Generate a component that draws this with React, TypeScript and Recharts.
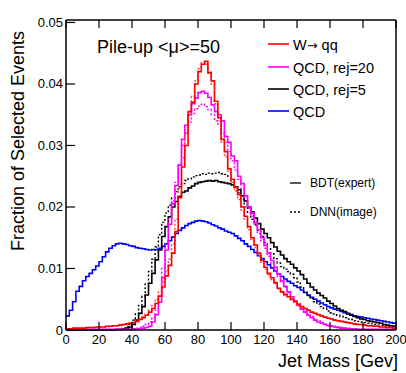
import React from 'react'
import { ComposedChart, Line, XAxis, YAxis } from 'recharts'

const FONT = "'Liberation Sans', Arial, Helvetica, sans-serif"

// lower bin edges, 2 GeV bins, plus the closing edge at 200
const binEdges = Array.from({ length: 101 }, (_, i) => i * 2)
const xTicks = [0, 20, 40, 60, 80, 100, 120, 140, 160, 180, 200]
const yTicks = [0, 0.01, 0.02, 0.03, 0.04, 0.05]

// W -> qq, BDT(expert)
const wqqBdt = [
  0.0002, 0.0002, 0.0003, 0.0003, 0.0003, 0.0003, 0.0004, 0.0004, 0.0004, 0.0005,
  0.0005, 0.0005, 0.0006, 0.0006, 0.0007, 0.0007, 0.0008, 0.0009, 0.001, 0.0011,
  0.0012, 0.0014, 0.0017, 0.002, 0.0024, 0.0029, 0.0035, 0.0043, 0.0055, 0.007,
  0.0088, 0.0105, 0.0125, 0.016, 0.0215, 0.0265, 0.03, 0.0355, 0.037, 0.04,
  0.042, 0.0432, 0.0437, 0.0418, 0.0405, 0.0372, 0.0345, 0.031, 0.029, 0.0262,
  0.0245, 0.0232, 0.022, 0.02, 0.0185, 0.0168, 0.015, 0.0138, 0.0125, 0.0113,
  0.0102, 0.0092, 0.0085, 0.0077, 0.0068, 0.0062, 0.0058, 0.0054, 0.005, 0.0046,
  0.0042, 0.0038, 0.0035, 0.0032, 0.0029, 0.0027, 0.0025, 0.0023, 0.0021, 0.0019,
  0.0018, 0.0016, 0.0015, 0.0014, 0.0013, 0.0012, 0.0011, 0.001, 0.0009, 0.0009,
  0.0008, 0.0007, 0.0007, 0.0006, 0.0006, 0.0005, 0.0005, 0.0004, 0.0004, 0.0003,
]

// W -> qq, DNN(image)
const wqqDnn = [
  0.0002, 0.0002, 0.0002, 0.0003, 0.0003, 0.0003, 0.0003, 0.0004, 0.0004, 0.0004,
  0.0005, 0.0005, 0.0005, 0.0006, 0.0006, 0.0007, 0.0008, 0.0008, 0.0009, 0.0011,
  0.0012, 0.0015, 0.0018, 0.0022, 0.0026, 0.0032, 0.004, 0.005, 0.0062, 0.0078,
  0.0095, 0.0115, 0.014, 0.018, 0.023, 0.028, 0.032, 0.035, 0.038, 0.0405,
  0.0425, 0.0435, 0.0432, 0.042, 0.04, 0.0368, 0.034, 0.0305, 0.0282, 0.0258,
  0.024, 0.0226, 0.0212, 0.0195, 0.018, 0.0163, 0.0147, 0.0134, 0.0121, 0.011,
  0.0099, 0.009, 0.0082, 0.0075, 0.0067, 0.0061, 0.0057, 0.0053, 0.0049, 0.0045,
  0.0041, 0.0038, 0.0035, 0.0032, 0.0029, 0.0027, 0.0025, 0.0023, 0.0021, 0.0019,
  0.0018, 0.0016, 0.0015, 0.0014, 0.0013, 0.0012, 0.0011, 0.001, 0.0009, 0.0009,
  0.0008, 0.0007, 0.0007, 0.0006, 0.0006, 0.0005, 0.0005, 0.0004, 0.0004, 0.0003,
]

// QCD after cut with rejection 20
const qcd20Bdt = [
  0, 0, 0, 0, 0, 0, 0.0001, 0.0001, 0.0001, 0.0001,
  0.0001, 0.0001, 0.0001, 0.0001, 0.0001, 0.0001, 0.0001, 0.0001, 0.0001, 0.0001,
  0.0001, 0.0002, 0.0002, 0.0003, 0.0004, 0.0006, 0.0013, 0.0025, 0.0045, 0.0085,
  0.013, 0.0172, 0.0205, 0.0235, 0.0268, 0.031, 0.0333, 0.035, 0.0368, 0.0377,
  0.0386, 0.0388, 0.0385, 0.0378, 0.0366, 0.0355, 0.035, 0.034, 0.0315, 0.0305,
  0.0283, 0.0275, 0.025, 0.0238, 0.0218, 0.02, 0.019, 0.0175, 0.0163, 0.015,
  0.0138, 0.0125, 0.0113, 0.0102, 0.0091, 0.008, 0.0071, 0.0062, 0.0054, 0.0047,
  0.004, 0.0034, 0.0029, 0.0024, 0.002, 0.0016, 0.0013, 0.0011, 0.0009, 0.0007,
  0.0006, 0.0005, 0.0004, 0.0003, 0.0003, 0.0002, 0.0002, 0.0002, 0.0001, 0.0001,
  0.0001, 0.0001, 0.0001, 0.0001, 0.0001, 0.0001, 0.0001, 0.0001, 0.0001, 0.0001,
]

const qcd20Dnn = [
  0, 0, 0, 0, 0, 0, 0.0001, 0.0001, 0.0001, 0.0001,
  0.0001, 0.0001, 0.0001, 0.0001, 0.0001, 0.0001, 0.0001, 0.0001, 0.0001, 0.0001,
  0.0002, 0.0003, 0.0004, 0.0006, 0.0009, 0.0013, 0.002, 0.0032, 0.0055, 0.01,
  0.014, 0.018, 0.021, 0.024, 0.027, 0.03, 0.032, 0.0338, 0.0352, 0.036,
  0.0364, 0.0367, 0.0363, 0.0358, 0.035, 0.034, 0.0335, 0.032, 0.0305, 0.029,
  0.0275, 0.026, 0.0245, 0.023, 0.0215, 0.0198, 0.0185, 0.017, 0.0157, 0.0145,
  0.0133, 0.012, 0.0108, 0.0097, 0.0087, 0.0078, 0.0069, 0.0061, 0.0054, 0.0047,
  0.0041, 0.0035, 0.003, 0.0026, 0.0022, 0.0018, 0.0015, 0.0012, 0.001, 0.0008,
  0.0007, 0.0006, 0.0005, 0.0004, 0.0003, 0.0003, 0.0002, 0.0002, 0.0002, 0.0001,
  0.0001, 0.0001, 0.0001, 0.0001, 0.0001, 0.0001, 0.0001, 0.0001, 0.0001, 0.0001,
]

// QCD after cut with rejection 5
const qcd5Bdt = [
  0, 0, 0, 0, 0, 0, 0, 0, 0, 0,
  0, 0, 0, 0, 0, 0.0001, 0.0001, 0.0002, 0.0003, 0.0005,
  0.0009, 0.0016, 0.0027, 0.0038, 0.0057, 0.0076, 0.0092, 0.0114, 0.013, 0.0152,
  0.0168, 0.0184, 0.02, 0.0209, 0.0217, 0.0224, 0.0226, 0.0231, 0.0234, 0.0238,
  0.024, 0.0241, 0.0242, 0.0243, 0.0242, 0.0243, 0.0241, 0.024, 0.0239, 0.0238,
  0.0236, 0.0232, 0.0228, 0.0218, 0.021, 0.02, 0.0192, 0.0182, 0.0173, 0.0164,
  0.0157, 0.015, 0.0142, 0.0135, 0.0128, 0.0122, 0.0116, 0.0111, 0.0107, 0.0101,
  0.0096, 0.009, 0.0083, 0.0076, 0.007, 0.0065, 0.006, 0.0056, 0.0052, 0.0047,
  0.0043, 0.0039, 0.0035, 0.0032, 0.003, 0.0027, 0.0024, 0.0022, 0.002, 0.0018,
  0.0017, 0.0015, 0.0014, 0.0013, 0.0012, 0.0011, 0.0009, 0.0008, 0.0007, 0.0006,
]

const qcd5Dnn = [
  0, 0, 0, 0, 0, 0, 0, 0, 0, 0,
  0, 0, 0, 0, 0, 0.0001, 0.0001, 0.0003, 0.0005, 0.0009,
  0.0016, 0.0026, 0.004, 0.0055, 0.0075, 0.0095, 0.0115, 0.0135, 0.0155, 0.0175,
  0.019, 0.0203, 0.0215, 0.0225, 0.0233, 0.0238, 0.0243, 0.0246, 0.0249, 0.0251,
  0.0252, 0.0254, 0.0253, 0.0255, 0.0254, 0.0255, 0.0256, 0.0254, 0.0253, 0.025,
  0.0242, 0.0233, 0.0223, 0.0212, 0.02, 0.019, 0.018, 0.0172, 0.0162, 0.0152,
  0.0142, 0.0132, 0.0124, 0.0116, 0.0109, 0.0103, 0.0099, 0.0095, 0.0091, 0.0085,
  0.0078, 0.007, 0.0062, 0.0056, 0.0051, 0.0046, 0.0042, 0.0038, 0.0035, 0.0031,
  0.0028, 0.0026, 0.0024, 0.0022, 0.002, 0.0018, 0.0017, 0.0015, 0.0014, 0.0013,
  0.0012, 0.0011, 0.001, 0.0009, 0.0008, 0.0008, 0.0007, 0.0006, 0.0005, 0.0005,
]

// QCD, no cut
const qcdAll = [
  0.0023, 0.0032, 0.0046, 0.0063, 0.0071, 0.008, 0.0087, 0.0092, 0.0098, 0.0104,
  0.0111, 0.0119, 0.0127, 0.0133, 0.0137, 0.014, 0.0141, 0.014, 0.0139, 0.0137,
  0.0136, 0.0134, 0.0133, 0.0132, 0.0131, 0.013, 0.0131, 0.0131, 0.0133, 0.0136,
  0.014, 0.0145, 0.0151, 0.0157, 0.0162, 0.0166, 0.017, 0.0173, 0.0175, 0.0177,
  0.0178, 0.0177, 0.0176, 0.0174, 0.0171, 0.0169, 0.0166, 0.0164, 0.0161, 0.0159,
  0.0157, 0.0153, 0.0149, 0.0145, 0.014, 0.0136, 0.0131, 0.0126, 0.0121, 0.0116,
  0.0111, 0.0106, 0.0101, 0.0096, 0.0091, 0.0087, 0.0083, 0.0079, 0.0076, 0.0072,
  0.0069, 0.0065, 0.0061, 0.0057, 0.0053, 0.005, 0.0047, 0.0044, 0.0041, 0.0038,
  0.0036, 0.0034, 0.0032, 0.003, 0.0028, 0.0026, 0.0025, 0.0023, 0.0022, 0.0021,
  0.002, 0.0019, 0.0018, 0.0017, 0.0016, 0.0015, 0.0014, 0.0013, 0.0012, 0.0011,
]

const data = binEdges.map((m, i) => {
  const k = Math.min(i, 99)
  return {
    m,
    wqqBdt: wqqBdt[k],
    wqqDnn: wqqDnn[k],
    qcd20Bdt: qcd20Bdt[k],
    qcd20Dnn: qcd20Dnn[k],
    qcd5Bdt: qcd5Bdt[k],
    qcd5Dnn: qcd5Dnn[k],
    qcdAll: qcdAll[k],
  }
})

const fmtY = (v: number) => (v === 0 ? '0' : v.toFixed(2))

// ROOT style: ticks point into the frame
const LeftTick = ({ x, y, payload }: any) => (
  <g>
    <line x1={x} y1={y} x2={x + 9} y2={y} stroke="#000" strokeWidth={1.2} />
    <text x={x - 3} y={y} dy={4.5} textAnchor="end" fontSize={13} fontFamily={FONT} fill="#000">
      {fmtY(payload.value)}
    </text>
  </g>
)
const RightTick = ({ x, y }: any) => (
  <line x1={x} y1={y} x2={x - 9} y2={y} stroke="#000" strokeWidth={1.2} />
)
const BottomTick = ({ x, y, payload }: any) => (
  <g>
    <line x1={x} y1={y} x2={x} y2={y - 8} stroke="#000" strokeWidth={1.2} />
    <text x={x} y={y + 14} textAnchor="middle" fontSize={13} fontFamily={FONT} fill="#000">
      {payload.value}
    </text>
  </g>
)
const TopTick = ({ x, y }: any) => (
  <line x1={x} y1={y} x2={x} y2={y + 8} stroke="#000" strokeWidth={1.2} />
)

const legendRows = [
  { label: 'QCD, rej=20', color: '#ff00ff', y: 67 },
  { label: 'QCD, rej=5', color: '#000000', y: 89 },
  { label: 'QCD', color: '#0000ff', y: 111 },
]

export default function App() {
  const yDomain: [number, number] = [0, 0.0504]
  return (
    <div style={{ position: 'absolute', left: 0, top: 0, width: 406, height: 373, background: '#fff' }}>
      <ComposedChart width={406} height={373} data={data} margin={{ top: 0, right: 0, bottom: 0, left: 0 }}>
        <XAxis
          xAxisId="b"
          dataKey="m"
          type="number"
          domain={[0, 200]}
          ticks={xTicks}
          interval={0}
          height={43}
          tickSize={0}
          tickMargin={0}
          tickLine={false}
          axisLine={{ stroke: '#000', strokeWidth: 1.5 }}
          tick={<BottomTick />}
        />
        <XAxis
          xAxisId="t"
          orientation="top"
          dataKey="m"
          type="number"
          domain={[0, 200]}
          ticks={xTicks}
          interval={0}
          height={20}
          tickSize={0}
          tickMargin={0}
          tickLine={false}
          axisLine={{ stroke: '#000', strokeWidth: 1.5 }}
          tick={<TopTick />}
        />
        <YAxis
          yAxisId="l"
          type="number"
          domain={yDomain}
          ticks={yTicks}
          interval={0}
          width={66}
          tickSize={0}
          tickMargin={0}
          tickLine={false}
          axisLine={{ stroke: '#000', strokeWidth: 1.5 }}
          tick={<LeftTick />}
        />
        <YAxis
          yAxisId="r"
          orientation="right"
          type="number"
          domain={yDomain}
          ticks={yTicks}
          interval={0}
          width={10}
          tickSize={0}
          tickMargin={0}
          tickLine={false}
          axisLine={{ stroke: '#000', strokeWidth: 1.5 }}
          tick={<RightTick />}
        />
        <Line xAxisId="b" yAxisId="l" type="stepAfter" dataKey="qcdAll" stroke="#0000ff" strokeWidth={1.6} dot={false} isAnimationActive={false} />
        <Line xAxisId="b" yAxisId="l" type="stepAfter" dataKey="qcd5Dnn" stroke="#000000" strokeWidth={1.4} strokeDasharray="2 2" dot={false} isAnimationActive={false} />
        <Line xAxisId="b" yAxisId="l" type="stepAfter" dataKey="qcd5Bdt" stroke="#000000" strokeWidth={1.6} dot={false} isAnimationActive={false} />
        <Line xAxisId="b" yAxisId="l" type="stepAfter" dataKey="qcd20Dnn" stroke="#ff00ff" strokeWidth={1.4} strokeDasharray="2 2" dot={false} isAnimationActive={false} />
        <Line xAxisId="b" yAxisId="l" type="stepAfter" dataKey="qcd20Bdt" stroke="#ff00ff" strokeWidth={1.6} dot={false} isAnimationActive={false} />
        <Line xAxisId="b" yAxisId="l" type="stepAfter" dataKey="wqqDnn" stroke="#ff4040" strokeWidth={1.4} strokeDasharray="2 2" dot={false} isAnimationActive={false} />
        <Line xAxisId="b" yAxisId="l" type="stepAfter" dataKey="wqqBdt" stroke="#ff0000" strokeWidth={1.6} dot={false} isAnimationActive={false} />
      </ComposedChart>

      <svg
        width={406}
        height={373}
        style={{ position: 'absolute', left: 0, top: 0, pointerEvents: 'none' }}
        fontFamily={FONT}
      >
        <text x={97} y={53} fontSize={18} fill="#000">Pile-up &lt;μ&gt;=50</text>
        <line x1={268} y1={44} x2={289} y2={44} stroke="#ff0000" strokeWidth={1.6} />
        <text x={293} y={49.5} fontSize={14.5} fill="#000">
          W<tspan fontFamily="'DejaVu Sans', sans-serif" fontSize={13}>→</tspan> qq
        </text>
        {legendRows.map(r => (
          <g key={r.label}>
            <line x1={268} y1={r.y} x2={289} y2={r.y} stroke={r.color} strokeWidth={1.6} />
            <text x={293} y={r.y + 5.5} fontSize={14.5} fill="#000">{r.label}</text>
          </g>
        ))}
        <line x1={290} y1={183} x2={301} y2={183} stroke="#000" strokeWidth={1.3} />
        <text x={310} y={187} fontSize={12} fill="#000">BDT(expert)</text>
        <line x1={290} y1={212} x2={301} y2={212} stroke="#000" strokeWidth={1.3} strokeDasharray="2 2" />
        <text x={310} y={216} fontSize={12} fill="#000">DNN(image)</text>
        <text
          x={0}
          y={0}
          fontSize={18}
          fill="#000"
          textAnchor="middle"
          transform="translate(24 141) rotate(-90)"
        >
          Fraction of Selected Events
        </text>
        <text x={398} y={367} fontSize={18} fill="#000" textAnchor="end">Jet Mass [Gev]</text>
      </svg>
    </div>
  )
}
